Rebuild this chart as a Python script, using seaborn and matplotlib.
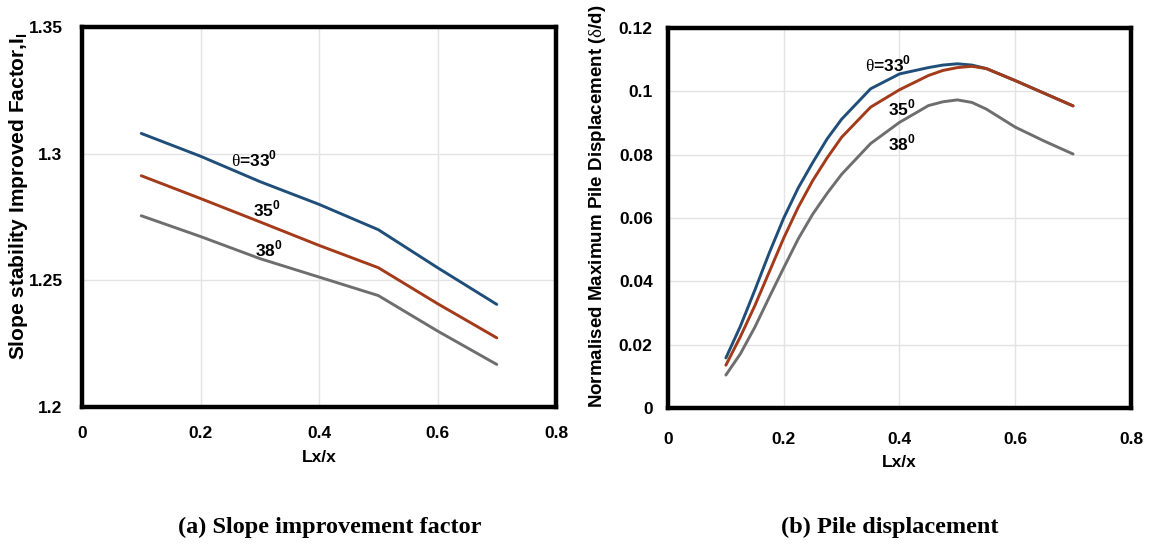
import numpy as np
import pandas as pd
import matplotlib
matplotlib.use('Agg')
import matplotlib.pyplot as plt
import seaborn as sns

# (a) slope improvement factor
lx_a = [0.1, 0.2, 0.3, 0.4, 0.5, 0.6, 0.7]
imp_33 = [1.308, 1.299, 1.289, 1.280, 1.270, 1.255, 1.2405]
imp_35 = [1.2913, 1.2823, 1.2731, 1.2638, 1.255, 1.2408, 1.2273]
imp_38 = [1.2755, 1.2673, 1.2586, 1.2513, 1.244, 1.230, 1.2168]

# (b) normalised max pile displacement
lx_b = [0.1, 0.125, 0.15, 0.175, 0.2, 0.225, 0.25, 0.275, 0.3, 0.35, 0.4,
        0.45, 0.475, 0.5, 0.525, 0.55, 0.6, 0.65, 0.7]
disp_33 = [0.0158, 0.0258, 0.0372, 0.0490, 0.0600, 0.0695, 0.0775, 0.0850, 0.0912, 0.1008, 0.1055,
           0.1075, 0.1083, 0.1087, 0.1083, 0.1072, 0.1034, 0.0994, 0.0954]
disp_35 = [0.0135, 0.0225, 0.0323, 0.0430, 0.0537, 0.0634, 0.0718, 0.0790, 0.0855, 0.0950, 0.1005,
           0.1050, 0.1066, 0.1075, 0.1079, 0.1072, 0.1034, 0.0994, 0.0954]
disp_38 = [0.0104, 0.0171, 0.0255, 0.0350, 0.0443, 0.0534, 0.0612, 0.0678, 0.0738, 0.0835, 0.0902,
           0.0955, 0.0967, 0.0973, 0.0965, 0.0944, 0.0887, 0.0843, 0.0802]

colors = ['#1f4e79', '#a33a1a', '#6e6e6e']

sns.set_style('white')
plt.rcParams['font.family'] = ['Liberation Sans', 'DejaVu Sans']
plt.rcParams['mathtext.fontset'] = 'custom'
plt.rcParams['mathtext.rm'] = 'Liberation Serif'
plt.rcParams['mathtext.bf'] = 'Liberation Sans:bold'
for key in ['text.color', 'axes.labelcolor', 'xtick.color', 'ytick.color']:
    plt.rcParams[key] = 'black'


def style_axes(ax, xpad, ypad, xlabelpad):
    ax.set_xlim(0, 0.8)
    ax.set_xticks([0, 0.2, 0.4, 0.6, 0.8])
    ax.set_xticklabels(['0', '0.2', '0.4', '0.6', '0.8'])
    ax.grid(True, color='#e3e3e3', linewidth=1.0)
    ax.tick_params(length=0, labelsize=12.5, pad=ypad, axis='y')
    ax.tick_params(length=0, labelsize=12.5, pad=xpad, axis='x')
    for lbl in ax.get_xticklabels() + ax.get_yticklabels():
        lbl.set_fontweight('bold')
    for sp in ax.spines.values():
        sp.set_visible(True)
        sp.set_color('black')
        sp.set_linewidth(3.2)
    ax.set_xlabel('Lx/x', fontsize=12.5, fontweight='bold', labelpad=xlabelpad)


fig = plt.figure(figsize=(11.65, 5.45), dpi=100)
ax1 = fig.add_axes([0.0704, 0.2532, 0.4069, 0.6972])
ax2 = fig.add_axes([0.5734, 0.2514, 0.3974, 0.6972])

for ys, c in zip([imp_33, imp_35, imp_38], colors):
    sns.lineplot(x=lx_a, y=ys, color=c, linewidth=2.1, ax=ax1, sort=False)
ax1.set_ylim(1.2, 1.35)
ax1.set_yticks([1.2, 1.25, 1.3, 1.35])
ax1.set_yticklabels(['1.2', '1.25', '1.3', '1.35'])
style_axes(ax1, 14, 14, 6)
ax1.set_ylabel('Slope stability Improved Factor,I$_{\\mathbf{I}}$', fontsize=15,
               fontweight='bold')
ax1.yaxis.set_label_coords(-0.11, 0.555)

ax1.text(0.252, 1.2979, r'$\mathrm{\theta}$=33$^{\mathbf{0}}$', fontsize=12.5, fontweight='bold', va='center')
ax1.text(0.289, 1.2781, '35$^{\\mathbf{0}}$', fontsize=12.5, fontweight='bold', va='center')
ax1.text(0.292, 1.2623, '38$^{\\mathbf{0}}$', fontsize=12.5, fontweight='bold', va='center')

for ys, c in zip([disp_33, disp_35, disp_38], colors):
    sns.lineplot(x=lx_b, y=ys, color=c, linewidth=2.1, ax=ax2, sort=False)
ax2.set_ylim(0, 0.12)
ax2.set_yticks([0, 0.02, 0.04, 0.06, 0.08, 0.1, 0.12])
ax2.set_yticklabels(['0', '0.02', '0.04', '0.06', '0.08', '0.1', '0.12'])
style_axes(ax2, 17, 11, 6)
ax2.set_ylabel('Normalised Maximum Pile Displacement ($\\mathrm{\\delta}$/d)', fontsize=13.5,
               fontweight='bold')
ax2.yaxis.set_label_coords(-0.13, 0.53)

ax2.text(0.341, 0.1085, r'$\mathrm{\theta}$=33$^{\mathbf{0}}$', fontsize=12.5, fontweight='bold', va='center')
ax2.text(0.38, 0.0948, '35$^{\\mathbf{0}}$', fontsize=12.5, fontweight='bold', va='center')
ax2.text(0.38, 0.0838, '38$^{\\mathbf{0}}$', fontsize=12.5, fontweight='bold', va='center')

fig.text(0.283, 0.033, '(a) Slope improvement factor', fontsize=17.5, fontweight='bold',
         family='Liberation Serif', ha='center', va='center')
fig.text(0.764, 0.033, '(b) Pile displacement', fontsize=17.5, fontweight='bold',
         family='Liberation Serif', ha='center', va='center')

fig.savefig('out.png', dpi=100)
